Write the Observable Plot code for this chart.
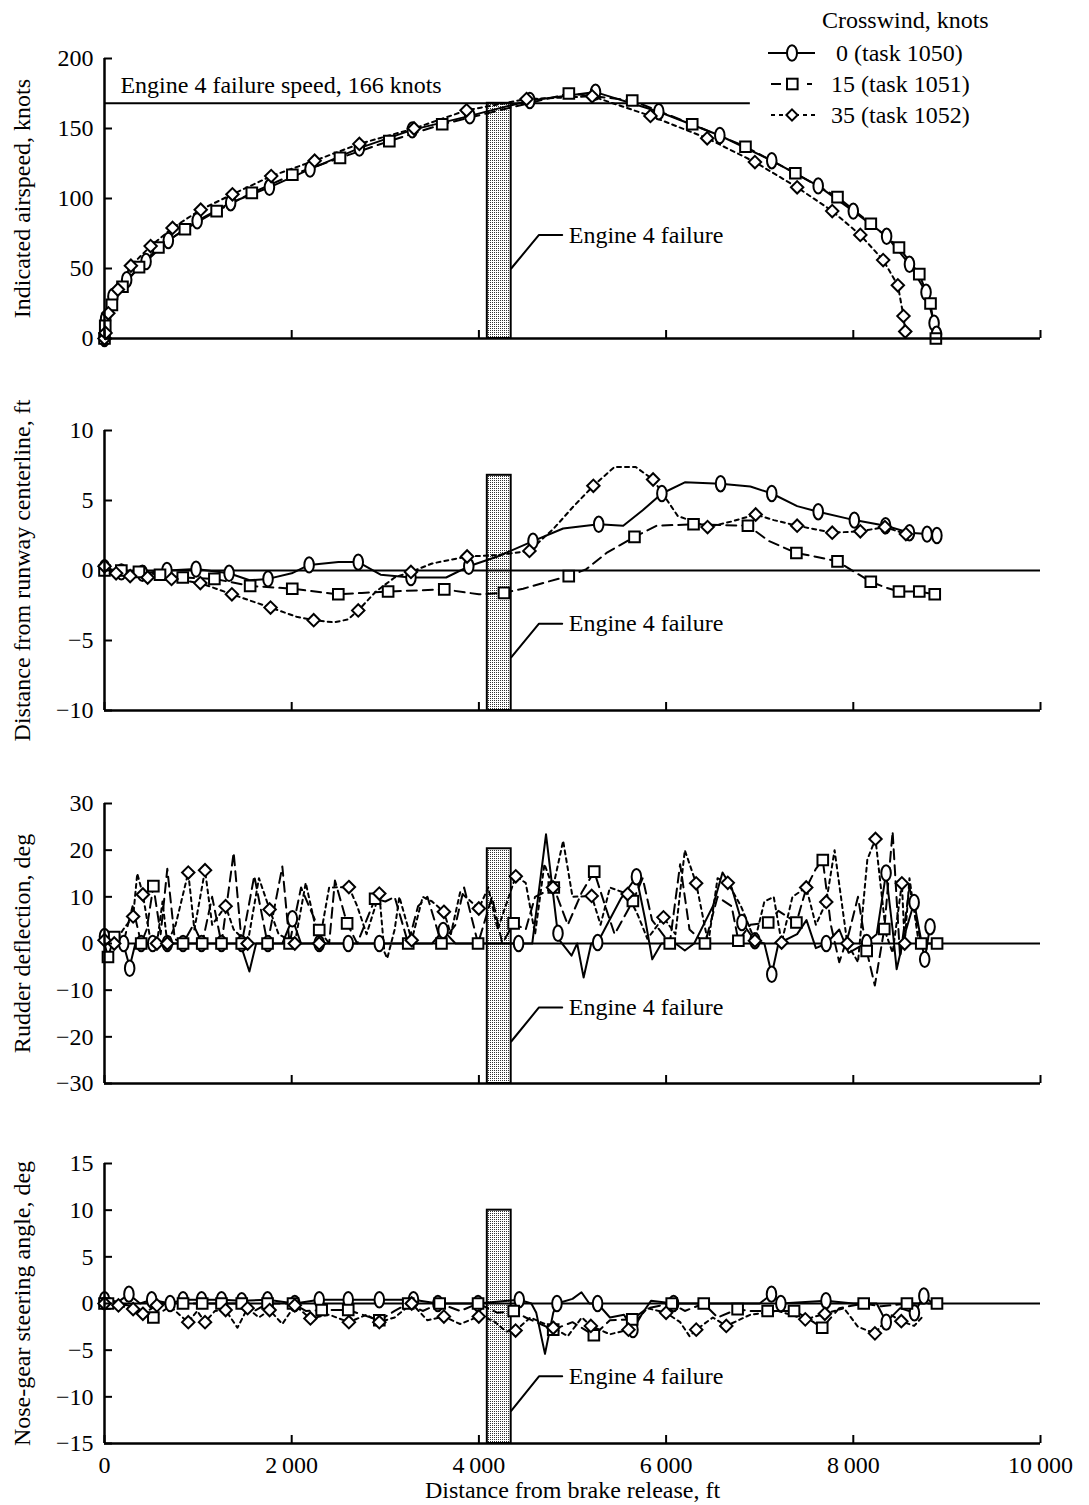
<!DOCTYPE html>
<html><head><meta charset="utf-8">
<script src="https://cdn.jsdelivr.net/npm/d3@7"></script>
<script src="https://cdn.jsdelivr.net/npm/@observablehq/plot@0.6"></script>
<style>
body{margin:0;background:#fff;}
#wrap{position:relative;width:1089px;height:1505px;}
#wrap svg{display:block;}
#legend{position:absolute;left:0;top:0;pointer-events:none;}
</style></head><body>
<svg width="0" height="0" style="position:absolute"><defs>
<pattern id="stipple" width="2" height="2" patternUnits="userSpaceOnUse"><rect width="2" height="2" fill="#fff"/><rect width="1" height="1" fill="#333"/></pattern>
</defs></svg>
<div id="wrap"></div>
<script>
// ---------- shared axis / annotation values ----------
const xTicks = [0, 2000, 4000, 6000, 8000, 10000];
const failureBand = [4090, 4345];
const failureSpeedLine = 168;          // drawn level of the 166-knot line
const failureSpeedLineEnd = 6900;
const speedLabel = "Engine 4 failure speed, 166 knots";
const failureLabel = "Engine 4 failure";
const leaderX = [4345, 4642, 4890];
const failureTextX = 4960;
const legendTitle = "Crosswind, knots";
const legendNames = ["0 (task 1050)", "15 (task 1051)", "35 (task 1052)"];

// ---------- panel 1: indicated airspeed ----------
const speedTicks = [0, 50, 100, 150, 200];
const speedBarTop = 168;
const speedLeader = [50, 74];
const speed0 = [[0,0],[12,14],[90,30],[237,42],[444,55],[682,70],[990,84],[1348,97],[1762,108],[2196,121],[2723,136],[3288,149],[3903,159],[4544,170],[5246,176],[5922,162],[6574,145],[7129,127],[7625,109],[8000,91],[8356,73],[8600,53],[8777,33],[8863,11],[8889,3]];
const speed15 = [[0,0],[8,9],[79,24],[192,37],[369,51],[576,65],[859,78],[1198,91],[1574,104],[2007,117],[2516,129],[3043,141],[3608,153],[4961,175],[5638,170],[6279,153],[6848,137],[7381,118],[7831,101],[8187,82],[8488,65],[8705,46],[8825,25],[8882,0]];
const speed35 = [[0,0],[11,4],[41,18],[143,35],[282,52],[493,66],[727,79],[1028,92],[1367,103],[1781,116],[2245,127],[2723,139],[3307,150],[3868,163],[4509,171],[5210,173],[5833,159],[6439,143],[6949,126],[7400,108],[7775,91],[8075,74],[8319,56],[8476,38],[8536,16],[8555,5]];

// ---------- panel 2: distance from runway centerline ----------
const offsetTicks = [-10, -5, 0, 5, 10];
const offsetBarTop = 6.8;
const offsetLeader = [-6.2, -3.8];
const offset0Line = [[0,0.2],[180,-0.1],[405,-0.2],[667,0],[978,0.1],[1331,-0.2],[1550,-0.7],[1747,-0.6],[2000,-0.2],[2186,0.4],[2500,0.6],[2711,0.6],[2950,-0.3],[3274,-0.5],[3650,-0.5],[3892,0.3],[4200,1.0],[4578,2.1],[4900,3.0],[5280,3.3],[5542,3.2],[5750,4.3],[5955,5.5],[6200,6.3],[6582,6.2],[6900,6.0],[7129,5.5],[7400,4.6],[7625,4.2],[8011,3.6],[8345,3.2],[8600,2.7],[8788,2.6],[8893,2.5]];
const offset0Marks = [[0,0.2],[180,-0.1],[405,-0.2],[667,0],[978,0.1],[1331,-0.2],[1747,-0.6],[2186,0.4],[2711,0.6],[3274,-0.5],[3892,0.3],[4578,2.1],[5280,3.3],[5955,5.5],[6582,6.2],[7129,5.5],[7625,4.2],[8011,3.6],[8345,3.2],[8600,2.7],[8788,2.6],[8893,2.5]];
const offset15Line = [[0,0],[180,0],[368,-0.1],[593,-0.3],[836,-0.5],[1174,-0.6],[1556,-1.1],[2006,-1.3],[2498,-1.7],[2750,-1.6],[3030,-1.5],[3630,-1.35],[4000,-1.7],[4268,-1.6],[4473,-1.3],[4736,-0.8],[4960,-0.4],[5148,0.1],[5373,1.3],[5662,2.4],[5899,3.2],[6293,3.3],[6874,3.2],[7100,2.1],[7392,1.25],[7625,0.95],[7831,0.65],[8037,-0.2],[8187,-0.8],[8338,-1.2],[8488,-1.5],[8705,-1.5],[8870,-1.7]];
const offset15Marks = [[0,0],[180,0],[368,-0.1],[593,-0.3],[836,-0.5],[1174,-0.6],[1556,-1.1],[2006,-1.3],[2498,-1.7],[3030,-1.5],[3630,-1.35],[4268,-1.6],[4960,-0.4],[5662,2.4],[6293,3.3],[6874,3.2],[7392,1.25],[7831,0.65],[8187,-0.8],[8488,-1.5],[8705,-1.5],[8870,-1.7]];
const offset35Line = [[0,0.3],[124,-0.2],[274,-0.4],[461,-0.5],[716,-0.6],[1024,-0.9],[1361,-1.7],[1774,-2.65],[2050,-3.3],[2235,-3.55],[2450,-3.7],[2600,-3.5],[2711,-2.85],[2900,-1.5],[3100,-0.5],[3274,-0.1],[3500,0.5],[3874,1.0],[4200,1.1],[4540,1.4],[4800,3.0],[5000,4.5],[5223,6.05],[5449,7.4],[5673,7.4],[5861,6.5],[6124,3.9],[6443,3.1],[6700,3.5],[6957,4.0],[7150,3.6],[7400,3.2],[7775,2.7],[8075,2.8],[8338,3.1],[8562,2.6]];
const offset35Marks = [[0,0.3],[124,-0.2],[274,-0.4],[461,-0.5],[716,-0.6],[1024,-0.9],[1361,-1.7],[1774,-2.65],[2235,-3.55],[2711,-2.85],[3274,-0.1],[3874,1.0],[4540,1.4],[5223,6.05],[5861,6.5],[6443,3.1],[6957,4.0],[7400,3.2],[7775,2.7],[8075,2.8],[8338,3.1],[8562,2.6]];

// ---------- panel 3: rudder deflection ----------
const rudderTicks = [-30, -20, -10, 0, 10, 20, 30];
const rudderBarTop = 20.3;
const rudderLeader = [-21, -13.7];
const rudder0Line = [[0,1.5],[100,0],[200,0],[269,-5],[330,0],[1450,0],[1548,-6],[1620,0],[1900,0],[2007,5.3],[2100,0],[3500,0],[3618,2.8],[3750,0],[4424,0],[4570,0],[4717,23.4],[4850,1],[4990,-2.6],[5050,0],[5119,-7.3],[5200,0],[5269,0.2],[5363,3.8],[5513,9.5],[5683,14.3],[5776,5.2],[5852,-3.4],[5950,0],[6100,0],[6200,-1.5],[6300,0],[6500,8],[6603,15.2],[6700,12],[6810,4.5],[6949,0.6],[7050,0],[7129,-6.6],[7200,0],[7400,2],[7500,5],[7600,-1],[7711,0],[7850,3],[7950,-2],[8143,0.2],[8250,2],[8350,15.1],[8420,3],[8463,-5.5],[8550,2],[8650,8.8],[8763,-3.4],[8820,3.6]];
const rudder0Marks = [[0,1.5],[205,0],[269,-5.3],[392,0],[515,0],[671,0],[839,0],[1037,0],[1250,0],[1466,0],[1746,0],[2007,5.3],[2294,0],[2604,0],[2936,0],[3618,2.8],[4424,0],[4845,2.2],[5269,0.2],[5683,14.3],[6810,4.5],[6949,0.6],[7129,-6.6],[7711,0],[8143,0.2],[8350,15.1],[8650,8.8],[8763,-3.4],[8820,3.6]];
const rudder15Line = [[0,0],[37,-2.9],[104,1.4],[200,0],[300,8],[392,0],[450,3],[522,12.3],[600,2],[671,16],[750,1],[839,0],[950,4],[1044,0],[1150,10],[1250,0],[1380,19.5],[1466,0],[1600,14.5],[1742,0],[1900,16.5],[1977,0],[2100,12],[2294,2.9],[2400,0],[2462,13.5],[2592,4.3],[2700,0],[2891,9.6],[3000,9],[3100,10],[3245,0],[3350,8],[3450,10],[3600,0],[3750,4],[3842,12],[3991,0],[4140,10],[4250,0],[4371,4.3],[4500,3],[4600,10],[4800,12],[4950,4],[5100,11],[5232,15.4],[5350,8],[5450,2],[5645,9.1],[5750,14],[5850,5],[6039,0],[6150,17],[6250,3],[6415,0],[6550,10],[6700,8],[6772,0.6],[6900,4],[7091,4.5],[7200,7],[7392,4.5],[7500,12],[7600,16],[7674,17.9],[7760,4],[7850,-4],[7950,2],[8050,10],[8143,-1.6],[8230,-9],[8331,3.1],[8420,24],[8500,-3],[8600,12],[8726,0],[8895,0]];
const rudder15Marks = [[37,-2.9],[104,1.4],[392,0],[522,12.3],[839,0],[1044,0],[1250,0],[1466,0],[1742,0],[1977,0],[2294,2.9],[2592,4.3],[2891,9.6],[3245,0],[3600,0],[3991,0],[4371,4.3],[4800,12],[5232,15.4],[5645,9.1],[6039,0],[6415,0],[6772,0.6],[7091,4.5],[7392,4.5],[7674,17.9],[8143,-1.6],[8331,3.1],[8726,0],[8895,0]];
const rudder35Line = [[0,0.7],[104,0],[200,3],[306,5.8],[350,15],[410,10.5],[480,2],[560,0],[620,9],[671,0],[760,4],[895,15.2],[960,3],[1074,15.7],[1150,4],[1294,8],[1380,3],[1529,0],[1650,14],[1764,7.3],[1860,2],[2033,0],[2150,13],[2294,0],[2400,12],[2611,12.1],[2700,8],[2800,2],[2936,10.7],[2990,-1.8],[3021,-3.2],[3100,3],[3150,10],[3282,0.7],[3400,10],[3500,9],[3626,6.8],[3700,2],[3800,11],[3999,7.5],[4100,12],[4200,3],[4394,14.4],[4500,13],[4600,2],[4700,17],[4792,12],[4900,22],[5000,10],[5205,10.2],[5300,4],[5400,12],[5589,10.6],[5700,6],[5800,1],[5972,5.6],[6100,2],[6200,20],[6321,12.9],[6450,0],[6550,14],[6659,13],[6800,8],[6949,0.6],[7050,9],[7150,10],[7234,0.2],[7350,10],[7497,12],[7600,4],[7711,8.9],[7800,20],[7936,0],[8050,-4],[8150,18],[8237,22.4],[8350,2],[8420,-2],[8519,12.9],[8549,0],[8600,14],[8700,0]];
const rudder35Marks = [[0,0.7],[104,0],[306,5.8],[410,10.5],[560,0],[671,0],[895,15.2],[1074,15.7],[1294,8],[1529,0],[1764,7.3],[2033,0],[2294,0],[2611,12.1],[2936,10.7],[3282,0.7],[3626,6.8],[3999,7.5],[4394,14.4],[4792,12],[5205,10.2],[5589,10.6],[5972,5.6],[6321,12.9],[6659,13],[6949,0.6],[7234,0.2],[7497,12],[7711,8.9],[7936,0],[8237,22.4],[8519,12.9],[8549,0]];

// ---------- panel 4: nose-gear steering angle ----------
const steerTicks = [-15, -10, -5, 0, 5, 10, 15];
const steerBarTop = 10;
const steerLeader = [-11.5, -7.8];
const steer0Line = [[0,0.4],[150,0.2],[261,1.0],[380,0],[504,0.4],[701,0],[839,0.4],[1037,0.4],[1250,0.4],[1466,0.3],[1742,0.4],[2033,0],[2294,0.4],[2604,0.4],[2936,0.4],[3301,0.4],[3562,0],[3991,0],[4431,0.4],[4560,0],[4613,-1],[4706,-5.4],[4794,-1],[4834,0],[5000,0.5],[5096,1.2],[5180,0],[5268,0],[5400,-1.5],[5550,-1.2],[5646,-2.8],[5750,-1],[5839,0.3],[6080,0],[6500,0],[7000,0],[7126,1.0],[7226,0],[7708,0.3],[8000,0],[8250,0],[8352,-2.0],[8500,-0.5],[8653,-1.0],[8754,0.8],[8850,0]];
const steer0Marks = [[0,0.4],[261,1.0],[504,0.4],[701,0],[839,0.4],[1037,0.4],[1250,0.4],[1466,0.3],[1742,0.4],[2033,0],[2294,0.4],[2604,0.4],[2936,0.4],[3301,0.4],[3562,0],[3991,0],[4431,0.4],[4834,0],[5268,0],[5646,-2.8],[6080,0],[7126,1.0],[7226,0],[7708,0.3],[8352,-2.0],[8653,-1.0],[8754,0.8]];
const steer15Line = [[0,0],[37,0],[149,0],[300,-0.3],[522,-1.5],[700,-0.3],[839,0],[1044,0],[1250,0],[1466,0],[1600,-0.8],[1742,0],[2014,0],[2150,-0.8],[2320,-0.7],[2604,-0.7],[2936,-1.8],[3100,-0.8],[3245,0],[3400,-0.8],[3581,0],[3800,-0.8],[3991,0],[4200,-1],[4372,-0.8],[4500,-1.5],[4794,-2.8],[5000,-2],[5228,-3.4],[5400,-1.8],[5638,-1.7],[5800,-0.5],[6060,0],[6200,-0.8],[6402,0],[6550,-1.5],[6764,-0.6],[6900,-0.8],[7085,-0.8],[7367,-0.8],[7500,-1.5],[7668,-2.6],[7850,-0.5],[8111,0],[8300,-0.3],[8573,0],[8894,0]];
const steer15Marks = [[0,0],[37,0],[522,-1.5],[839,0],[1044,0],[1250,0],[1466,0],[1742,0],[2014,0],[2320,-0.7],[2604,-0.7],[2936,-1.8],[3245,0],[3581,0],[3991,0],[4372,-0.8],[4794,-2.8],[5228,-3.4],[5638,-1.7],[6060,0],[6402,0],[6764,-0.6],[7085,-0.8],[7367,-0.8],[7668,-2.6],[8111,0],[8573,0],[8894,0]];
const steer35Line = [[0,0],[149,-0.2],[306,-0.6],[410,-1.1],[560,-0.2],[671,0],[800,-1.2],[895,-2.0],[990,-0.8],[1074,-2.0],[1180,-0.8],[1294,-0.7],[1420,-2.6],[1529,-0.5],[1650,-1.5],[1764,-0.7],[1900,-2.2],[2033,-0.2],[2200,-1.6],[2400,-1.2],[2611,-2.0],[2800,-1.2],[2936,-2.0],[3100,-1.5],[3282,0],[3450,-1.8],[3626,-1.4],[3800,-2.2],[3999,-1.4],[4150,-1.8],[4290,-3],[4392,-2.9],[4550,-1.5],[4794,-2.6],[4950,-3.5],[5100,-1.5],[5196,-2.4],[5400,-3.3],[5598,-2.8],[5800,-0.5],[6000,-1],[6150,-2],[6250,-3.5],[6322,-2.8],[6500,-1.5],[6643,-2.4],[6900,-1.2],[7200,-0.8],[7487,-1.7],[7696,-1.1],[7900,-0.5],[8050,-2.5],[8231,-3.2],[8400,-1.2],[8513,-1.9],[8650,-2.4],[8750,-1.3]];
const steer35Marks = [[0,0],[149,-0.2],[306,-0.6],[410,-1.1],[560,-0.2],[895,-2.0],[1074,-2.0],[1294,-0.7],[1529,-0.5],[1764,-0.7],[2033,-0.2],[2200,-1.6],[2611,-2.0],[2936,-2.0],[3282,0],[3626,-1.4],[3999,-1.4],[4392,-2.9],[4794,-2.6],[5196,-2.4],[5598,-2.8],[6000,-1],[6322,-2.8],[6643,-2.4],[7487,-1.7],[7696,-1.1],[8231,-3.2],[8513,-1.9]];

// ---------- drawing ----------
const FONT = "Liberation Serif";
const ellipseSymbol = {
  draw(ctx, size) {
    const r = Math.sqrt(size / Math.PI), rx = r * 0.62, ry = r, k = 0.5523;
    ctx.moveTo(rx, 0);
    ctx.bezierCurveTo(rx, ry * k, rx * k, ry, 0, ry);
    ctx.bezierCurveTo(-rx * k, ry, -rx, ry * k, -rx, 0);
    ctx.bezierCurveTo(-rx, -ry * k, -rx * k, -ry, 0, -ry);
    ctx.bezierCurveTo(rx * k, -ry, rx, -ry * k, rx, 0);
    ctx.closePath();
  }
};
const seriesStyle = [
  {dash: null, symbol: ellipseSymbol, r: 7.7},
  {dash: "10,6", symbol: "square", r: 6},
  {dash: "4,4", symbol: "diamond2", r: 5.6}
];
const fmtX = d => d === 0 ? "0" : d3.format(",")(d).replace(/,/g, "\u2009");
const noText = () => "";
const X = d => d[0], Y = d => d[1];

function panel({series, yDomain, yTicks, label, barTop, leader, zeroLine, showX, height, mt, mb, extra = []}) {
  const marks = [
    Plot.rect([barTop], {x1: () => failureBand[0], x2: () => failureBand[1], y1: () => yDomain[0], y2: d => d,
      fill: "url(#stipple)", stroke: "black", strokeWidth: 2})
  ];
  if (zeroLine) marks.push(Plot.ruleY([0], {stroke: "black", strokeWidth: 2}));
  marks.push(...extra);
  series.forEach((s, i) => {
    const st = seriesStyle[i];
    marks.push(Plot.line(s.line, {x: X, y: Y, stroke: "black", strokeWidth: 2, strokeDasharray: st.dash}));
  });
  series.forEach((s, i) => {
    const st = seriesStyle[i];
    marks.push(Plot.dot(s.marks, {x: X, y: Y, symbol: st.symbol, r: st.r, fill: "white", stroke: "black", strokeWidth: 2}));
  });
  marks.push(
    Plot.line([[leaderX[0], leader[0]], [leaderX[1], leader[1]], [leaderX[2], leader[1]]], {x: X, y: Y, stroke: "black", strokeWidth: 2}),
    Plot.text([failureLabel], {x: () => failureTextX, y: () => leader[1], text: d => d, textAnchor: "start", lineAnchor: "middle", fontSize: 24}),
    Plot.ruleX([0], {stroke: "black", strokeWidth: 2.5}),
    Plot.ruleY([yDomain[0]], {stroke: "black", strokeWidth: 2.5}),
    Plot.axisY({ticks: yTicks, tickSize: 0, tickPadding: 11, label: null, fontSize: 24}),
    Plot.axisY({ticks: yTicks, tickSize: 8, dx: 8, tickFormat: noText, label: null, strokeWidth: 2}),
    Plot.axisX({ticks: xTicks, tickSize: 8, dy: -8, tickFormat: noText, label: null, strokeWidth: 2}),
    Plot.text([label], {frameAnchor: "left", rotate: -90, dx: -82, text: d => d, fontSize: 24, textAnchor: "middle", lineAnchor: "middle"})
  );
  if (showX) {
    marks.push(
      Plot.axisX({ticks: xTicks, tickSize: 0, tickPadding: 12, tickFormat: fmtX, label: null, fontSize: 24}),
      Plot.text(["Distance from brake release, ft"], {frameAnchor: "bottom", dy: 47, text: d => d, fontSize: 24, textAnchor: "middle", lineAnchor: "middle"})
    );
  }
  return Plot.plot({
    width: 1089, height, marginLeft: 104, marginRight: 49, marginTop: mt, marginBottom: mb,
    x: {domain: [0, 10000]},
    y: {domain: yDomain},
    style: {fontFamily: FONT, fontSize: "24px", background: "transparent", overflow: "visible", color: "black"},
    marks
  });
}

const wrap = document.getElementById("wrap");
wrap.append(panel({
  series: [{line: speed0, marks: speed0}, {line: speed15, marks: speed15}, {line: speed35, marks: speed35}],
  yDomain: [0, 200], yTicks: speedTicks, label: "Indicated airspeed, knots", barTop: speedBarTop,
  leader: speedLeader, zeroLine: false, showX: false, height: 384, mt: 58, mb: 46,
  extra: [
    Plot.ruleY([failureSpeedLine], {x1: 0, x2: failureSpeedLineEnd, stroke: "black", strokeWidth: 2}),
    Plot.text([speedLabel], {x: () => 170, y: () => failureSpeedLine, dy: -18, text: d => d, textAnchor: "start", lineAnchor: "middle", fontSize: 24})
  ]
}));
wrap.append(panel({
  series: [{line: offset0Line, marks: offset0Marks}, {line: offset15Line, marks: offset15Marks}, {line: offset35Line, marks: offset35Marks}],
  yDomain: [-10, 10], yTicks: offsetTicks, label: "Distance from runway centerline, ft", barTop: offsetBarTop,
  leader: offsetLeader, zeroLine: true, showX: false, height: 372, mt: 46, mb: 46
}));
wrap.append(panel({
  series: [{line: rudder0Line, marks: rudder0Marks}, {line: rudder15Line, marks: rudder15Marks}, {line: rudder35Line, marks: rudder35Marks}],
  yDomain: [-30, 30], yTicks: rudderTicks, label: "Rudder deflection, deg", barTop: rudderBarTop,
  leader: rudderLeader, zeroLine: true, showX: false, height: 367, mt: 47, mb: 40
}));
wrap.append(panel({
  series: [{line: steer0Line, marks: steer0Marks}, {line: steer15Line, marks: steer15Marks}, {line: steer35Line, marks: steer35Marks}],
  yDomain: [-15, 15], yTicks: steerTicks, label: "Nose-gear steering angle, deg", barTop: steerBarTop,
  leader: steerLeader, zeroLine: true, showX: true, height: 382, mt: 40, mb: 62
}));

// ---------- legend (overlay, top right) ----------
const ns = "http://www.w3.org/2000/svg";
const lg = document.createElementNS(ns, "svg");
lg.setAttribute("id", "legend"); lg.setAttribute("width", 1089); lg.setAttribute("height", 130);
lg.style.fontFamily = FONT; lg.style.fontSize = "24px";
function el(tag, attrs, text) {
  const e = document.createElementNS(ns, tag);
  for (const k in attrs) e.setAttribute(k, attrs[k]);
  if (text) e.textContent = text;
  lg.appendChild(e); return e;
}
el("text", {x: 822, y: 28}, legendTitle);
const rows = [53, 84, 115];
const textStart = [836, 831, 831];
el("line", {x1: 768, x2: 815, y1: rows[0], y2: rows[0], stroke: "black", "stroke-width": 2});
el("ellipse", {cx: 792, cy: rows[0], rx: 5, ry: 7.8, fill: "white", stroke: "black", "stroke-width": 2});
el("line", {x1: 771, x2: 812, y1: rows[1], y2: rows[1], stroke: "black", "stroke-width": 2, "stroke-dasharray": "10,26,6"});
el("rect", {x: 787, y: rows[1] - 5.3, width: 10.6, height: 10.6, fill: "white", stroke: "black", "stroke-width": 2});
el("line", {x1: 771, x2: 815, y1: rows[2], y2: rows[2], stroke: "black", "stroke-width": 2, "stroke-dasharray": "4,4"});
el("path", {d: `M792,${rows[2] - 5.6}L797.6,${rows[2]}L792,${rows[2] + 5.6}L786.4,${rows[2]}Z`, fill: "white", stroke: "black", "stroke-width": 2});
legendNames.forEach((n, i) => el("text", {x: textStart[i], y: rows[i] + 8}, n));
wrap.appendChild(lg);
</script>
</body></html>
